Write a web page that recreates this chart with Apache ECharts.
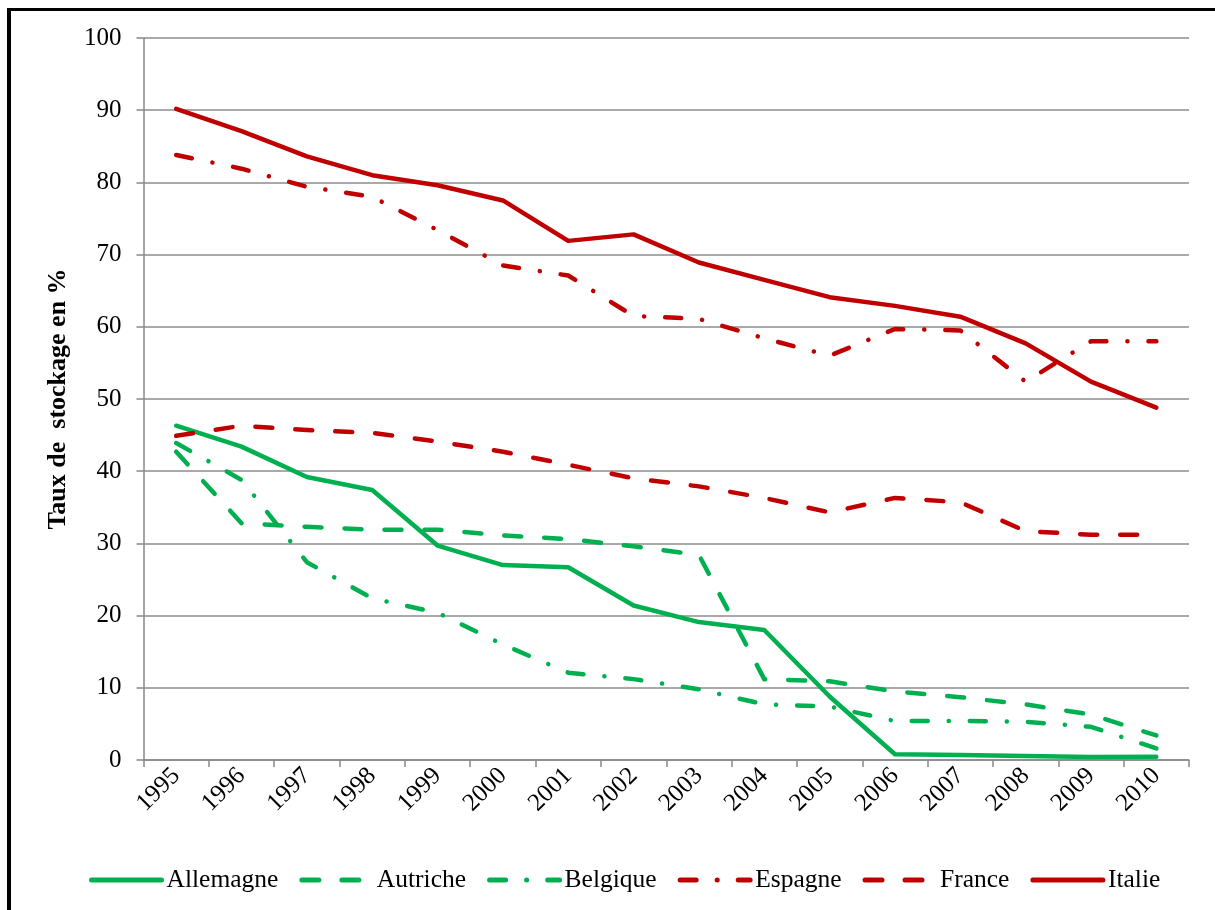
<!DOCTYPE html>
<html>
<head>
<meta charset="utf-8">
<script src="https://cdn.jsdelivr.net/npm/echarts@6/dist/echarts.min.js"></script>
<style>
  html, body { margin: 0; padding: 0; background: #fff; }
  #frame {
    position: absolute; left: 7px; top: 8px; width: 1300px; height: 1000px;
    border-left: 4px solid #000; border-top: 3px solid #000; box-sizing: border-box;
  }
  #chart { position: absolute; left: 0; top: 0; width: 1215px; height: 910px; }
</style>
</head>
<body>
<div id="frame"></div>
<div id="chart"></div>
<script>
// Taux de stockage des déchets (%) par pays, 1995-2010
const years = ['1995','1996','1997','1998','1999','2000','2001','2002',
               '2003','2004','2005','2006','2007','2008','2009','2010'];
const allemagne = [46.3, 43.4, 39.2, 37.4, 29.7, 27.0, 26.7, 21.4, 19.1, 18.0, 8.8, 0.8, 0.7, 0.55, 0.4, 0.45];
const autriche  = [42.7, 32.8, 32.3, 31.9, 31.9, 31.1, 30.6, 29.6, 28.4, 11.2, 10.9, 9.5, 8.7, 7.7, 6.3, 3.4];
const belgique  = [43.9, 38.8, 27.4, 22.4, 20.4, 16.0, 12.1, 11.2, 9.8, 7.7, 7.4, 5.4, 5.4, 5.3, 4.6, 1.6];
const espagne   = [83.8, 81.9, 79.4, 78.0, 73.4, 68.5, 67.1, 61.5, 61.1, 58.4, 56.0, 59.7, 59.5, 52.4, 58.0, 58.0];
const france    = [44.9, 46.3, 45.7, 45.3, 44.1, 42.7, 40.9, 39.0, 37.9, 36.3, 34.3, 36.3, 35.7, 31.7, 31.2, 31.2];
const italie    = [90.2, 87.1, 83.6, 81.0, 79.6, 77.5, 71.9, 72.8, 68.9, 66.5, 64.1, 62.9, 61.4, 57.7, 52.4, 48.8];

const GREEN = '#00B050';
const RED = '#C00000';
const FONT = "'Liberation Serif', 'Times New Roman', serif";

const DASH = [17, 23];
const DASH_DOT = [16, 21, 0.1, 21];

function mkSeries(name, data, color, type) {
  return {
    name: name,
    type: 'line',
    data: data,
    symbol: 'none',
    showSymbol: false,
    silent: true,
    animation: false,
    lineStyle: { color: color, width: 4.5, type: type, cap: 'round', join: 'round' },
    itemStyle: { color: color }
  };
}

const chart = echarts.init(document.getElementById('chart'), null, { renderer: 'canvas' });
chart.setOption({
  backgroundColor: 'transparent',
  animation: false,
  grid: { left: 143.5, right: 26, top: 38, bottom: 150, containLabel: false },
  legend: {
    left: 84, top: 862,
    itemWidth: 70, itemHeight: 12, itemGap: 21,
    // the legend keys show only the line, without a marker
    itemStyle: { opacity: 0 },
    lineStyle: { width: 5, cap: 'round' },
    textStyle: { fontFamily: FONT, fontSize: 25.5, color: '#000' },
    data: ['Allemagne', 'Autriche', 'Belgique', 'Espagne', 'France', 'Italie']
  },
  xAxis: {
    type: 'category',
    data: years,
    boundaryGap: true,
    axisLine: { lineStyle: { color: '#888', width: 1.5 } },
    axisTick: { show: true, length: 7, alignWithLabel: false, lineStyle: { color: '#888', width: 1.5 } },
    axisLabel: { rotate: 45, margin: 12, fontFamily: FONT, fontSize: 25, color: '#000', interval: 0 },
    splitLine: { show: false }
  },
  yAxis: {
    type: 'value',
    min: 0, max: 100, interval: 10,
    name: 'Taux de  stockage en %',
    nameLocation: 'middle',
    nameGap: 72,
    nameTextStyle: { fontFamily: FONT, fontSize: 26, fontWeight: 'bold', color: '#000' },
    axisLine: { show: true, lineStyle: { color: '#888', width: 1.5 } },
    axisTick: { show: true, length: 7, inside: false, lineStyle: { color: '#888', width: 1.5 } },
    axisLabel: { margin: 22, fontFamily: FONT, fontSize: 25, color: '#000' },
    splitLine: { show: true, lineStyle: { color: '#8c8c8c', width: 1.5 } }
  },
  series: [
    mkSeries('Allemagne', allemagne, GREEN, 'solid'),
    mkSeries('Autriche', autriche, GREEN, DASH),
    mkSeries('Belgique', belgique, GREEN, DASH_DOT),
    mkSeries('Espagne', espagne, RED, DASH_DOT),
    mkSeries('France', france, RED, DASH),
    mkSeries('Italie', italie, RED, 'solid')
  ]
});
</script>
</body>
</html>
